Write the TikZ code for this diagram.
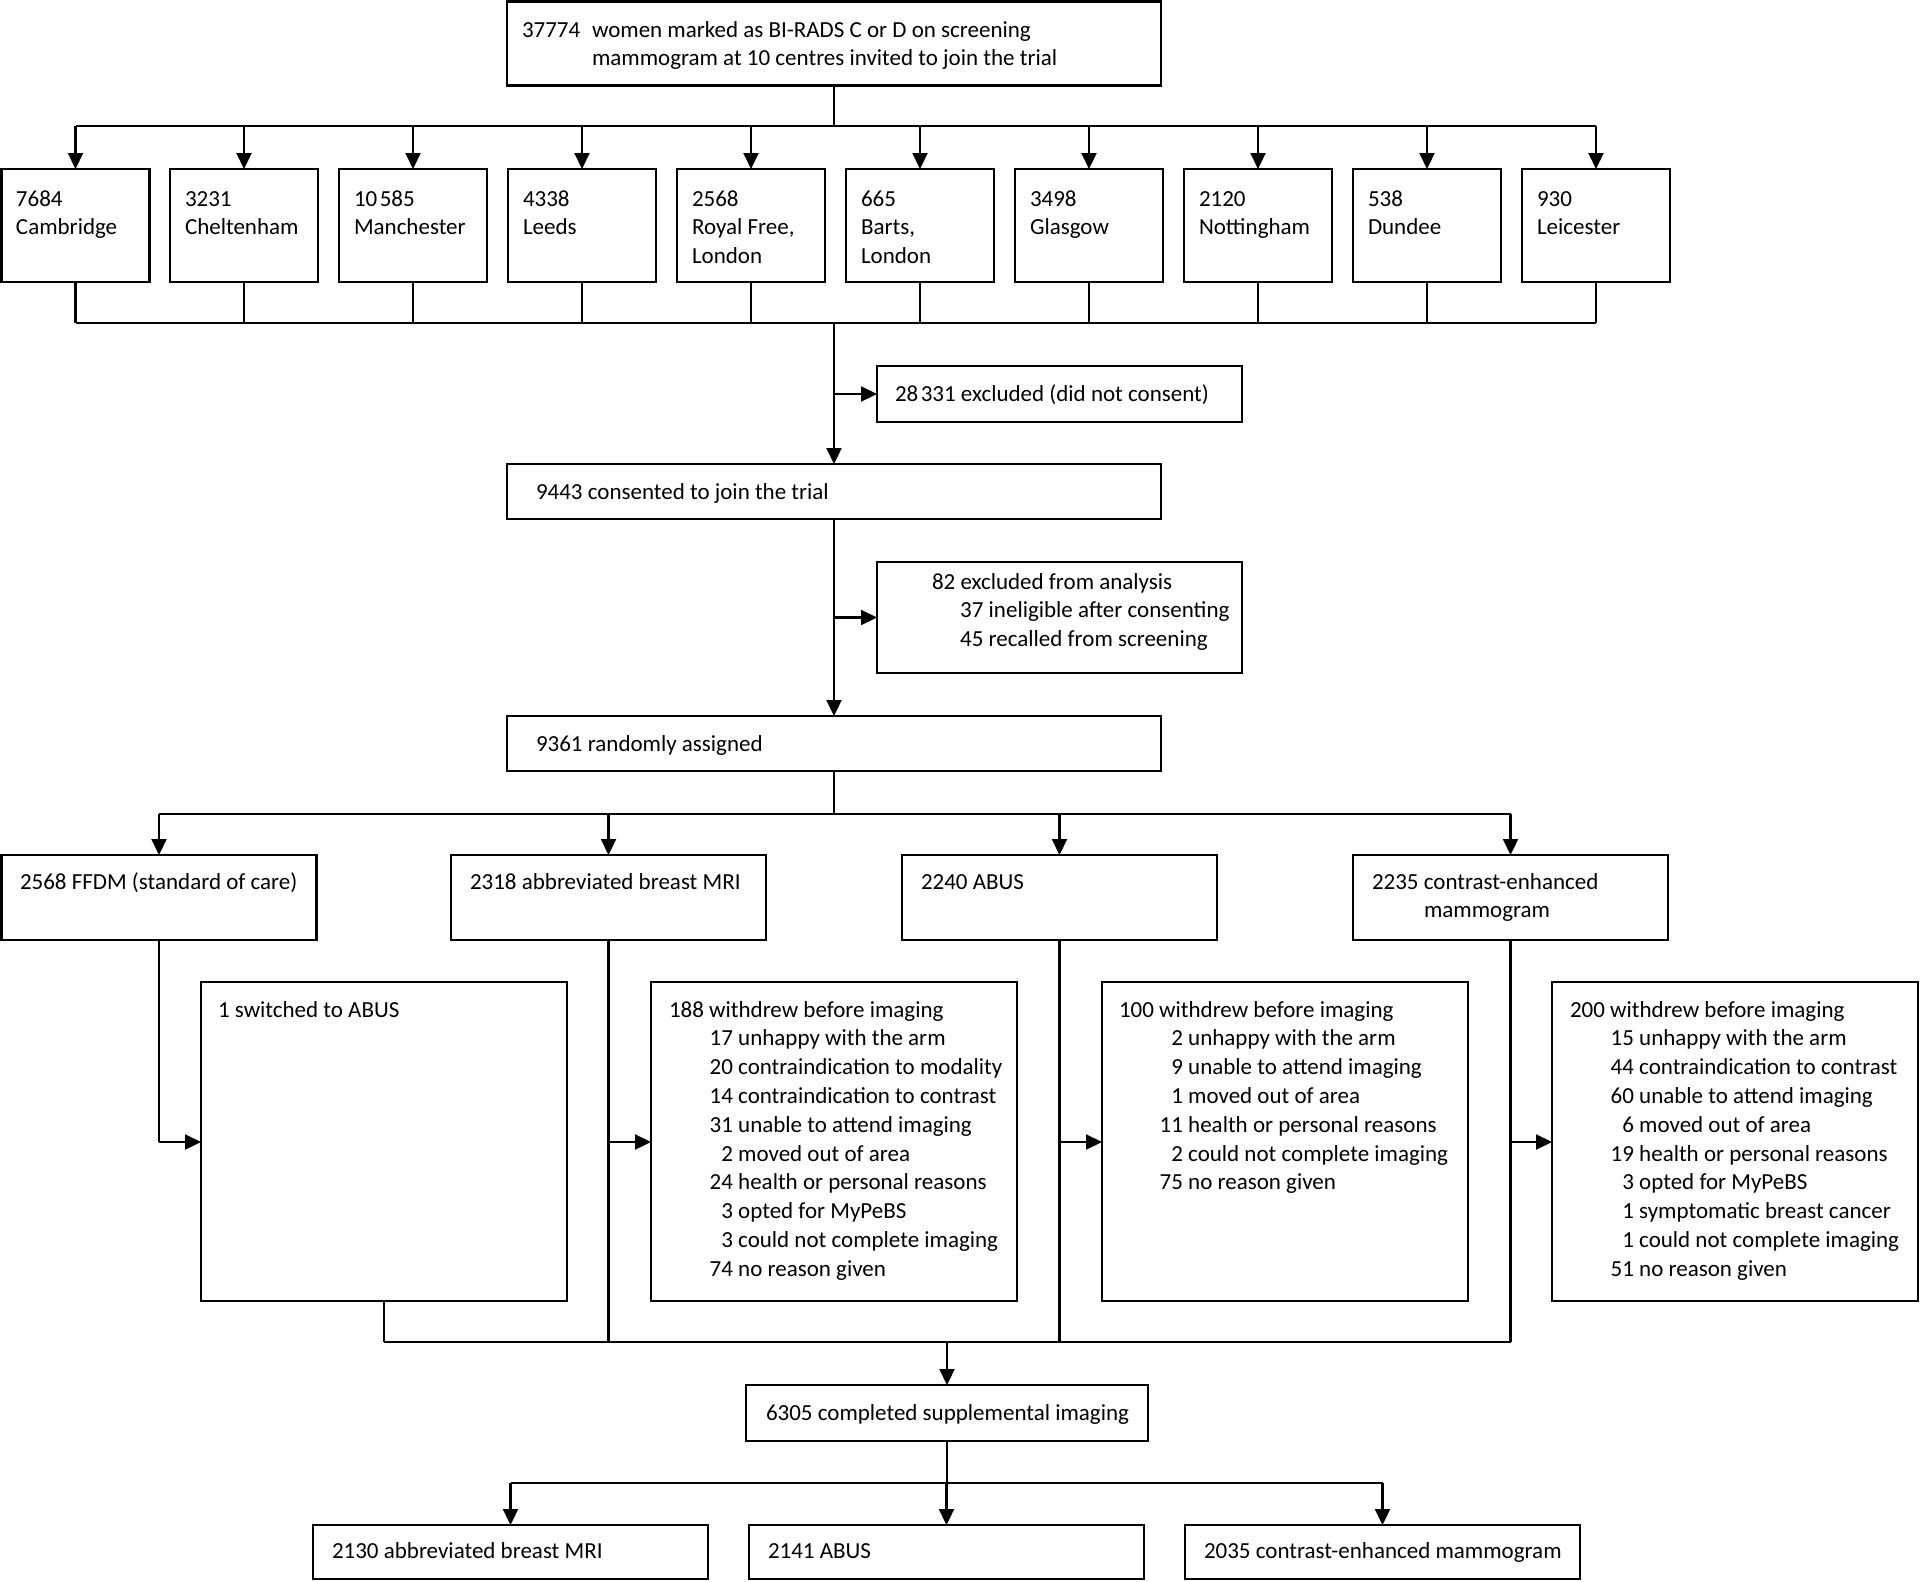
\documentclass[tikz,border=0pt]{standalone}
\usepackage{fontspec}
\setmainfont{Carlito}
\usetikzlibrary{arrows.meta}
\newcommand\subline[3][64pt]{\makebox[#1][r]{#2} #3}
\newcommand\linesblock[1]{\begin{tabular}[t]{@{}l@{}}#1\end{tabular}}
\begin{document}
\begin{tikzpicture}[x=1pt,y=-1pt,
  box/.style={draw, line width=2.4pt, inner sep=0pt, outer sep=0pt, anchor=north west},
  txt/.style={anchor=base west, inner sep=0pt, outer sep=0pt,
    font=\fontsize{23}{28.8}\selectfont},
  ln/.style={line width=2.2pt},
  arr/.style={line width=2.2pt, -{Triangle[length=16pt,width=15pt]}}]
\useasboundingbox (0,0) rectangle (1920,1582);

% top box
\node[box, minimum width=654pt, minimum height=84pt] (top) at (507,1.5) {};
\node[txt] (ttop) at (522,37) {\linesblock{\makebox[70pt][l]{37774}women marked as BI-RADS C or D on screening\\\hspace*{70pt}mammogram at 10 centres invited to join the trial}};

% centres
\node[box, minimum width=148pt, minimum height=113pt] (c1) at (1.5,169) {};
\node[box, minimum width=148pt, minimum height=113pt] (c2) at (170,169) {};
\node[box, minimum width=148pt, minimum height=113pt] (c3) at (339,169) {};
\node[box, minimum width=148pt, minimum height=113pt] (c4) at (508,169) {};
\node[box, minimum width=148pt, minimum height=113pt] (c5) at (677,169) {};
\node[box, minimum width=148pt, minimum height=113pt] (c6) at (846,169) {};
\node[box, minimum width=148pt, minimum height=113pt] (c7) at (1015,169) {};
\node[box, minimum width=148pt, minimum height=113pt] (c8) at (1184,169) {};
\node[box, minimum width=148pt, minimum height=113pt] (c9) at (1353,169) {};
\node[box, minimum width=148pt, minimum height=113pt] (c10) at (1522,169) {};
\node[txt] (tc1) at (16,206) {\linesblock{7684\\Cambridge}};
\node[txt] (tc2) at (185,206) {\linesblock{3231\\Cheltenham}};
\node[txt] (tc3) at (354,206) {\linesblock{10\hspace{2.5pt}585\\Manchester}};
\node[txt] (tc4) at (523,206) {\linesblock{4338\\Leeds}};
\node[txt] (tc5) at (692,206) {\linesblock{2568\\Royal Free,\\London}};
\node[txt] (tc6) at (861,206) {\linesblock{665\\Barts,\\London}};
\node[txt] (tc7) at (1030,206) {\linesblock{3498\\Glasgow}};
\node[txt] (tc8) at (1199,206) {\linesblock{2120\\Nottingham}};
\node[txt] (tc9) at (1368,206) {\linesblock{538\\Dundee}};
\node[txt] (tc10) at (1537,206) {\linesblock{930\\Leicester}};

% consent
\node[box, minimum width=365pt, minimum height=56pt] (ex1) at (877,366) {};
\node[txt] (tex1) at (895,401) {28\hspace{2.5pt}331 excluded (did not consent)};
\node[box, minimum width=654pt, minimum height=55pt] (cons) at (507,464) {};
\node[txt] (tcons) at (536,499) {9443 consented to join the trial};
\node[box, minimum width=365pt, minimum height=111pt] (ex2) at (877,562) {};
\node[txt] (tex2) at (932,589) {\linesblock{82 excluded from analysis\\
\subline[51.5pt]{37}{ineligible after consenting}\\
\subline[51.5pt]{45}{recalled from screening}}};
\node[box, minimum width=654pt, minimum height=55pt] (rand) at (507,716) {};
\node[txt] (trand) at (536,751) {9361 randomly assigned};

% arms
\node[box, minimum width=315pt, minimum height=85pt] (a1) at (1.5,855) {};
\node[box, minimum width=315pt, minimum height=85pt] (a2) at (451,855) {};
\node[box, minimum width=315pt, minimum height=85pt] (a3) at (902,855) {};
\node[box, minimum width=315pt, minimum height=85pt] (a4) at (1353,855) {};
\node[txt] (ta1) at (20,889) {2568 FFDM (standard of care)};
\node[txt] (ta2) at (470,889) {2318 abbreviated breast MRI};
\node[txt] (ta3) at (921,889) {2240 ABUS};
\node[txt] (ta4) at (1372,889) {\linesblock{2235 contrast-enhanced\\\hspace*{52pt}mammogram}};

% withdrawals
\node[box, minimum width=366pt, minimum height=319pt] (w1) at (201,982) {};
\node[box, minimum width=366pt, minimum height=319pt] (w2) at (651,982) {};
\node[box, minimum width=366pt, minimum height=319pt] (w3) at (1102,982) {};
\node[box, minimum width=366pt, minimum height=319pt] (w4) at (1552,982) {};
\node[txt] (tw1) at (218,1017) {1 switched to ABUS};
\node[txt] (tw2) at (669,1017) {\linesblock{188 withdrew before imaging\\
\subline{17}{unhappy with the arm}\\
\subline{20}{contraindication to modality}\\
\subline{14}{contraindication to contrast}\\
\subline{31}{unable to attend imaging}\\
\subline{2}{moved out of area}\\
\subline{24}{health or personal reasons}\\
\subline{3}{opted for MyPeBS}\\
\subline{3}{could not complete imaging}\\
\subline{74}{no reason given}}};
\node[txt] (tw3) at (1119,1017) {\linesblock{100 withdrew before imaging\\
\subline{2}{unhappy with the arm}\\
\subline{9}{unable to attend imaging}\\
\subline{1}{moved out of area}\\
\subline{11}{health or personal reasons}\\
\subline{2}{could not complete imaging}\\
\subline{75}{no reason given}}};
\node[txt] (tw4) at (1570,1017) {\linesblock{200 withdrew before imaging\\
\subline{15}{unhappy with the arm}\\
\subline{44}{contraindication to contrast}\\
\subline{60}{unable to attend imaging}\\
\subline{6}{moved out of area}\\
\subline{19}{health or personal reasons}\\
\subline{3}{opted for MyPeBS}\\
\subline{1}{symptomatic breast cancer}\\
\subline{1}{could not complete imaging}\\
\subline{51}{no reason given}}};

% completed
\node[box, minimum width=402pt, minimum height=56pt] (comp) at (746,1385) {};
\node[txt] (tcomp) at (766,1420) {6305 completed supplemental imaging};
\node[box, minimum width=395pt, minimum height=54pt] (b1) at (313,1525) {};
\node[box, minimum width=395pt, minimum height=54pt] (b2) at (749,1525) {};
\node[box, minimum width=395pt, minimum height=54pt] (b3) at (1185,1525) {};
\node[txt] (tb1) at (332,1558) {2130 abbreviated breast MRI};
\node[txt] (tb2) at (768,1558) {2141 ABUS};
\node[txt] (tb3) at (1204,1558) {2035 contrast-enhanced mammogram};

% coordinates
\coordinate (fan) at (834,126);
\coordinate (gat) at (834,323);
\coordinate (rfan) at (834,814);
\coordinate (side) at (0,1142);
\coordinate (mer) at (947,1342);
\coordinate (bfan) at (947,1483);

% fan-out to centres
\draw[ln] (top.south) -- (fan);
\draw[ln] (c1.north |- fan) -- (c10.north |- fan);
\foreach \c in {c1,c2,c3,c4,c5,c6,c7,c8,c9,c10}{
  \draw[arr] (\c.north |- fan) -- (\c.north);
  \draw[ln] (\c.south) -- (\c.south |- gat);
}
\draw[ln] (c1.south |- gat) -- (c10.south |- gat);
\draw[arr] (cons.north |- gat) -- (cons.north);
\draw[arr] (cons.north |- ex1.west) -- (ex1.west);
\draw[arr] (cons.south) -- (rand.north);
\draw[arr] (cons.south |- ex2.west) -- (ex2.west);

% arms
\draw[ln] (rand.south) -- (rfan);
\draw[ln] (a1.north |- rfan) -- (a4.north |- rfan);
\foreach \a in {a1,a2,a3,a4}{
  \draw[arr] (\a.north |- rfan) -- (\a.north);
}
\draw[ln] (a1.south) -- (a1.south |- side);
\draw[arr] (a1.south |- side) -- (w1.west |- side);
\foreach \a/\w in {a2/w2,a3/w3,a4/w4}{
  \draw[ln] (\a.south) -- (\a.south |- mer);
  \draw[arr] (\a.south |- side) -- (\w.west |- side);
}
\draw[ln] (w1.south) -- (w1.south |- mer);
\draw[ln] (w1.south |- mer) -- (a4.south |- mer);
\draw[arr] (mer) -- (comp.north);

% bottom
\draw[ln] (comp.south) -- (bfan);
\draw[ln] (b1.north |- bfan) -- (b3.north |- bfan);
\foreach \b in {b1,b2,b3}{
  \draw[arr] (\b.north |- bfan) -- (\b.north);
}
\end{tikzpicture}
\end{document}
